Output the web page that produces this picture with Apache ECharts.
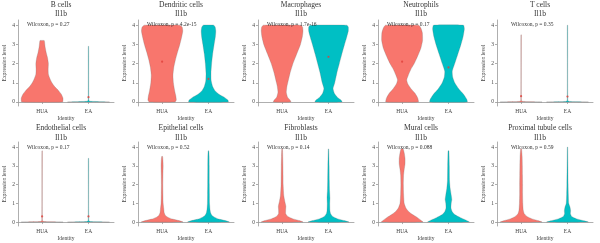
<!DOCTYPE html>
<html><head><meta charset="utf-8">
<script src="https://cdn.jsdelivr.net/npm/echarts@6/dist/echarts.min.js"></script>
<style>html,body{margin:0;padding:0;background:#fff}#c{width:600px;height:243px}</style>
</head><body><div id="c"></div>
<script>
const panels = ['B cells','Dendritic cells','Macrophages','Neutrophils','T cells',
  'Endothelial cells','Epithelial cells','Fibroblasts','Mural cells','Proximal tubule cells'];
const groups = ['HUA','EA'];
const gene = 'Il1b';
const pValues = ['0.27','4.2e-15','1.7e-16','0.17','0.35','0.17','0.52','0.14','0.088','0.59'];
const yTicks = [0,1,2,3,4];
// violin profiles: [expression level, relative half-width]
const huaProfiles = [
 [[0,0.98],[0.2,1],[0.4,0.92],[0.6,0.78],[0.8,0.6],[1.0,0.47],[1.2,0.38],[1.45,0.3],[1.7,0.29],[2.0,0.3],[2.3,0.26],[2.6,0.19],[2.9,0.14],[3.1,0.12],[3.2,0.1]],
 [[0,0.62],[0.1,0.68],[0.3,0.66],[0.6,0.6],[1.0,0.54],[1.4,0.52],[1.8,0.56],[2.2,0.64],[2.6,0.74],[3.0,0.85],[3.4,0.94],[3.7,0.99],[3.9,0.96],[4.0,0.85]],
 [[0,0.42],[0.1,0.38],[0.25,0.26],[0.5,0.2],[0.8,0.23],[1.0,0.27],[1.5,0.38],[2.0,0.52],[2.5,0.7],[3.0,0.88],[3.4,0.97],[3.7,1.0],[3.9,0.98],[4.0,0.9]],
 [[0,0.78],[0.2,0.75],[0.45,0.62],[0.7,0.42],[0.95,0.27],[1.15,0.22],[1.4,0.3],[1.7,0.42],[2.0,0.58],[2.4,0.75],[2.8,0.9],[3.2,0.98],[3.6,0.97],[3.85,0.9],[4.0,0.8]],
 [[0,1],[0.03,0.08],[0.08,0.015],[3.5,0.01]],
 [[0,1],[0.03,0.08],[0.08,0.015],[3.8,0.01]],
 [[0,1],[0.08,0.8],[0.16,0.5],[0.25,0.28],[0.35,0.16],[0.5,0.1],[0.7,0.08],[1.0,0.05],[1.5,0.04],[2.0,0.035],[2.5,0.04],[3.0,0.05],[3.3,0.04],[3.5,0.02]],
 [[0,1],[0.08,0.82],[0.18,0.5],[0.3,0.27],[0.45,0.17],[0.65,0.17],[0.85,0.18],[1.1,0.13],[1.4,0.08],[2.0,0.05],[2.5,0.045],[3.0,0.04],[3.5,0.03],[3.9,0.015]],
 [[0,1],[0.1,0.9],[0.25,0.72],[0.4,0.5],[0.55,0.32],[0.75,0.18],[1.0,0.1],[1.5,0.07],[2.0,0.06],[2.5,0.07],[2.8,0.1],[3.1,0.14],[3.4,0.14],[3.7,0.1],[3.9,0.05]],
 [[0,1],[0.08,0.8],[0.18,0.5],[0.3,0.28],[0.45,0.15],[0.65,0.1],[1.0,0.08],[1.5,0.07],[2.0,0.07],[2.5,0.065],[3.0,0.06],[3.5,0.05],[3.9,0.02]]
];
const eaProfiles = [
 [[0,1],[0.04,0.06],[0.1,0.015],[2.9,0.01]],
 [[0,0.95],[0.1,0.93],[0.25,0.75],[0.4,0.5],[0.6,0.3],[0.8,0.2],[1.1,0.13],[1.5,0.12],[2.0,0.15],[2.5,0.2],[3.0,0.27],[3.4,0.33],[3.7,0.35],[3.9,0.32],[4.0,0.25]],
 [[0,0.65],[0.1,0.6],[0.25,0.42],[0.45,0.28],[0.7,0.22],[1.0,0.3],[1.5,0.4],[2.0,0.52],[2.5,0.64],[3.0,0.77],[3.4,0.88],[3.7,0.95],[3.9,0.95],[4.0,0.88]],
 [[0,0.9],[0.15,0.87],[0.4,0.72],[0.7,0.48],[1.0,0.3],[1.3,0.2],[1.6,0.18],[2.0,0.3],[2.5,0.45],[3.0,0.6],[3.4,0.7],[3.8,0.76],[4.0,0.72]],
 [[0,1],[0.03,0.08],[0.08,0.015],[4.0,0.01]],
 [[0,1],[0.03,0.08],[0.08,0.015],[3.4,0.01]],
 [[0,1],[0.08,0.8],[0.16,0.5],[0.25,0.3],[0.35,0.17],[0.5,0.1],[0.7,0.07],[1.0,0.05],[1.5,0.045],[2.0,0.04],[3.0,0.035],[3.5,0.03],[3.8,0.015]],
 [[0,0.98],[0.08,0.75],[0.18,0.42],[0.3,0.2],[0.45,0.1],[0.6,0.07],[1.0,0.06],[1.3,0.07],[1.7,0.05],[2.2,0.04],[3.0,0.03],[3.5,0.02],[3.9,0.01]],
 [[0,1],[0.1,0.85],[0.25,0.55],[0.4,0.3],[0.55,0.18],[0.75,0.12],[1.0,0.13],[1.2,0.16],[1.45,0.13],[1.8,0.08],[2.2,0.05],[3.0,0.04],[3.5,0.03],[3.8,0.02]],
 [[0,1],[0.08,0.75],[0.18,0.42],[0.3,0.2],[0.45,0.14],[0.6,0.15],[0.8,0.12],[1.0,0.06],[1.5,0.04],[2.0,0.03],[3.0,0.02],[4.0,0.01]]
];
// summary points (red dots) where visible: [HUA, EA]
const huaMeans = [null,2.1,null,2.1,0.3,0.3,null,null,null,null];
const eaMeans  = [0.25,1.2,2.35,1.8,0.28,0.3,null,null,null,null];

const colors = ['#F8766D','#00BFC4'];
const FONT = '"Liberation Serif", "DejaVu Serif", serif';
const lefts = [18,138,258,378,497];
const gridW = 96;
const rowTop = [20,142];
const rowH = [86,86.5];
const titleY = [5,128];
const geneY = [14.5,138];
const wilcoxY = [25,148];

const grids=[], xAxes=[], yAxes=[], series=[], graphics=[];
const axColor = '#9a9a9a';
for (let i=0;i<10;i++){
  const r = Math.floor(i/5), c = i%5;
  grids.push({left:lefts[c], top:rowTop[r], width:gridW, height:rowH[r]});
  xAxes.push({gridIndex:i, type:'value', min:0.48, max:2.55,
    axisLine:{show:true,lineStyle:{color:axColor,width:0.8}},
    axisTick:{show:true,customValues:[1,2],length:2,lineStyle:{color:axColor,width:0.8}},
    axisLabel:{customValues:[1,2],formatter:v=>groups[Math.round(v)-1]||'',fontSize:5.5,margin:2.5,color:'#444',fontFamily:FONT},
    splitLine:{show:false},
    name:'Identity',nameLocation:'middle',nameGap:10,nameTextStyle:{fontSize:5.5,color:'#444',fontFamily:FONT}});
  yAxes.push({gridIndex:i, type:'value', min:-0.21, max:4.27,
    axisLine:{show:true,lineStyle:{color:axColor,width:0.8}},
    axisTick:{show:true,customValues:yTicks,length:2,lineStyle:{color:axColor,width:0.8}},
    axisLabel:{customValues:yTicks,fontSize:5.5,margin:3,color:'#444',fontFamily:FONT},
    splitLine:{show:false},
    name:'Expression level',nameLocation:'middle',nameRotate:90,nameGap:10.5,nameTextStyle:{fontSize:5.5,color:'#444',fontFamily:FONT}});
  const pi = i;
  series.push({type:'custom', xAxisIndex:i, yAxisIndex:i, clip:true,
    data:[[1],[2]],
    renderItem:(params,api)=>{
      const g = api.value(0);
      const prof = g===1 ? huaProfiles[pi] : eaProfiles[pi];
      const pts=[];
      for (const [y,w] of prof) pts.push(api.coord([g + w*0.45, y]));
      for (let k=prof.length-1;k>=0;k--) pts.push(api.coord([g - prof[k][1]*0.45, prof[k][0]]));
      return {type:'polygon', shape:{points:pts, smooth:0.15},
        style:{fill:colors[g-1], stroke:'rgba(110,110,110,0.5)', lineWidth:0.5}};
    }});
  const dots=[];
  if (huaMeans[i]!=null) dots.push([1,huaMeans[i]]);
  if (eaMeans[i]!=null) dots.push([2,eaMeans[i]]);
  series.push({type:'scatter', xAxisIndex:i, yAxisIndex:i, data:dots, symbolSize:2.2,
    itemStyle:{color:'#E0403A'}, silent:true, z:5});
  graphics.push({type:'text', x:lefts[c]+43, y:titleY[r], style:{text:panels[i], font:'7.5px '+FONT, fill:'#333', align:'center', verticalAlign:'middle'}});
  graphics.push({type:'text', x:lefts[c]+43, y:geneY[r], style:{text:gene, font:'7.5px '+FONT, fill:'#333', align:'center', verticalAlign:'middle'}});
  graphics.push({type:'text', x:lefts[c]+(c===4?14:9), y:wilcoxY[r], z:10, style:{text:'Wilcoxon, p = '+pValues[i], font:'5.5px '+FONT, fill:'#333', align:'left', verticalAlign:'middle'}});
}
const chart = echarts.init(document.getElementById('c'), null, {renderer:'canvas'});
chart.setOption({animation:false, backgroundColor:'#fff', grid:grids, xAxis:xAxes, yAxis:yAxes, series, graphic:graphics});
</script></body></html>
